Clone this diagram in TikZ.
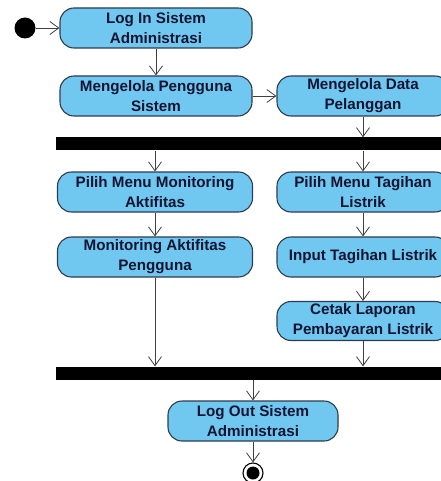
\documentclass[tikz,border=0pt]{standalone}
\usepackage{fontspec}
\setmainfont{Liberation Sans}
\usetikzlibrary{arrows.meta}
\definecolor{actfill}{RGB}{112,200,240}
\definecolor{actline}{RGB}{45,60,75}
\definecolor{acttext}{RGB}{18,20,50}
\begin{document}
\begin{tikzpicture}[x=1pt, y=-1pt,
    act/.style={rectangle, rounded corners=14pt, draw=actline, line width=1.1pt, fill=actfill,
      text=acttext, align=center, minimum height=40pt, inner sep=2pt,
      font=\fontsize{15.2}{20}\selectfont\bfseries},
    bar/.style={rectangle, fill=black, inner sep=0pt, minimum height=13pt},
    flow/.style={draw=black!75, line width=0.8pt, -{Straight Barb[length=9pt, width=13pt, line width=0.8pt]}}]
      \useasboundingbox (0,0) rectangle (440,481);
      \draw
        (25,28) node[circle, fill=black, inner sep=0pt, minimum size=21pt] (start){}
        (156,28) node[act, minimum width=192pt] (login){Log In Sistem\\Administrasi}
        (156,96) node[act, minimum width=192pt] (pengguna){Mengelola Pengguna\\Sistem}
        (363,96) node[act, minimum width=172pt] (pelanggan){Mengelola Data\\Pelanggan}
        (253,144) node[bar, minimum width=394pt] (fork){}
        (155,192) node[act, minimum width=195pt] (menumon){Pilih Menu Monitoring\\Aktifitas}
        (155,257) node[act, minimum width=195pt] (monitor){Monitoring Aktifitas\\Pengguna}
        (363,192) node[act, minimum width=172pt] (menutag){Pilih Menu Tagihan\\Listrik}
        (363,257) node[act, minimum width=172pt] (input){Input Tagihan Listrik}
        (363,321) node[act, minimum width=172pt, minimum height=39pt] (cetak){Cetak Laporan\\Pembayaran Listrik}
        (253,373) node[bar, minimum width=394pt] (join){}
        (253,421) node[act, minimum width=170pt] (logout){Log Out Sistem\\Administrasi}
        (253,473) node[circle, draw=black, line width=1.1pt, fill=white, minimum size=20pt, inner sep=0pt] (end){};
      \fill (end) circle (6.5pt);
      \begin{scope}[flow]
        \draw (start) to (login);
        \draw (login) to (pengguna);
        \draw (pengguna) to (pelanggan);
        \draw (pelanggan) to (pelanggan |- fork.north);
        \draw (menumon |- fork.south) to (menumon);
        \draw (menutag |- fork.south) to (menutag);
        \draw (menumon) to (monitor);
        \draw (monitor) to (monitor |- join.north);
        \draw (menutag) to (input);
        \draw (input) to (cetak);
        \draw (cetak) to (cetak |- join.north);
        \draw (join) to (logout);
        \draw (logout) to (end);
      \end{scope}
    \end{tikzpicture}
\end{document}
